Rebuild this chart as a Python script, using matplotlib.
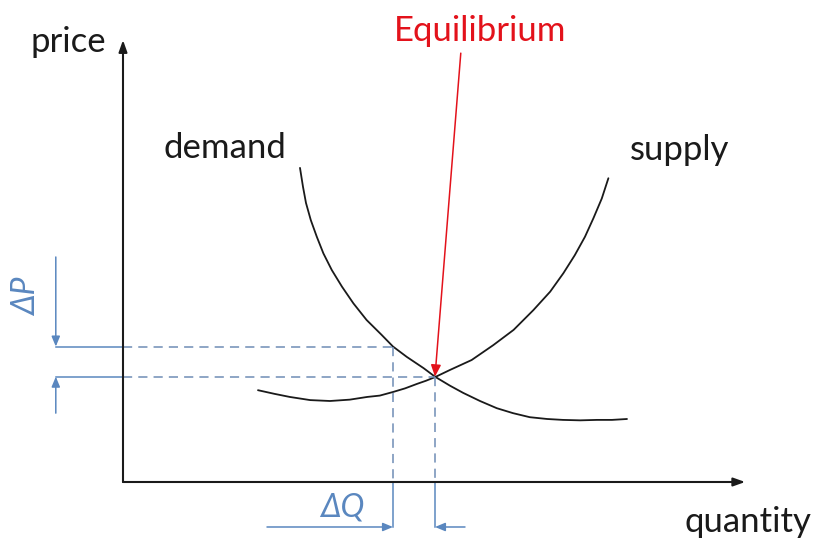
import matplotlib
matplotlib.use("Agg")
import matplotlib.pyplot as plt

plt.rcParams['font.family'] = ['Lato', 'DejaVu Sans']

# 需求曲线（读图得到的点，数量 q / 价格 p）
demand_q = [2.95, 3.00, 3.05, 3.13, 3.23, 3.34, 3.48, 3.65, 3.84, 4.06, 4.31, 4.50, 4.73,
            5.01, 5.20, 5.45, 5.67, 5.95, 6.23, 6.50, 6.78, 7.07, 7.33, 7.62, 7.90, 8.15, 8.40]
demand_p = [6.98, 6.56, 6.20, 5.82, 5.45, 5.08, 4.71, 4.34, 3.97, 3.60, 3.27, 3.01, 2.78,
            2.53, 2.34, 2.14, 1.98, 1.80, 1.64, 1.53, 1.44, 1.40, 1.38, 1.37, 1.38, 1.38, 1.40]

# 供给曲线
supply_q = [2.25, 2.52, 2.78, 3.12, 3.45, 3.78, 4.07, 4.28, 4.50, 4.70, 4.90, 5.05, 5.20,
            5.45, 5.81, 6.17, 6.51, 6.84, 7.12, 7.34, 7.53, 7.70, 7.84, 7.98, 8.09]
supply_p = [2.04, 1.96, 1.89, 1.82, 1.80, 1.83, 1.89, 1.92, 2.00, 2.08, 2.18, 2.25, 2.33,
            2.49, 2.71, 3.04, 3.38, 3.82, 4.23, 4.64, 5.04, 5.45, 5.86, 6.30, 6.75]

# 均衡点与偏移点
eq_q, eq_p = 5.20, 2.34
off_q, off_p = 4.50, 3.01

# 坐标轴长度
x_end, y_end = 10.37, 9.82

# ΔP / ΔQ 标注
dp_x = -1.12
dp_top, dp_bottom = 5.0, 1.53
dq_y = -1.0
dq_left, dq_right = 2.4, 5.7

# 均衡箭头起点
eq_label_q, eq_label_p = 5.63, 9.53

BLACK = '#1a1a1a'
BLUE = '#5a87bf'
DASH = '#6f8db5'
RED = '#e3121b'

fig = plt.figure(figsize=(8.17, 5.40), dpi=100)
ax = fig.add_axes([0, 0, 1, 1])
ax.set_xlim(-2.05, 11.567)
ax.set_ylim(-1.289, 10.711)
ax.axis('off')

# 坐标轴
arrow_kw = dict(arrowstyle='-|>,head_length=0.7,head_width=0.25', color=BLACK, lw=1.5,
                shrinkA=0, shrinkB=0)
ax.annotate('', xy=(0, y_end), xytext=(0, 0), arrowprops=arrow_kw)
ax.annotate('', xy=(x_end, 0), xytext=(0, 0), arrowprops=arrow_kw)

# 曲线
ax.plot(demand_q, demand_p, color=BLACK, lw=1.3, solid_capstyle='round', solid_joinstyle='round')
ax.plot(supply_q, supply_p, color=BLACK, lw=1.3, solid_capstyle='round', solid_joinstyle='round')

# 虚线（坐标轴内）
dash_kw = dict(color=DASH, lw=1.1, dashes=(6, 4))
ax.plot([0, off_q], [off_p, off_p], **dash_kw)
ax.plot([0, eq_q], [eq_p, eq_p], **dash_kw)
ax.plot([off_q, off_q], [off_p, 0], **dash_kw)
ax.plot([eq_q, eq_q], [eq_p, 0], **dash_kw)

# 实线（坐标轴外）
ax.plot([dp_x, 0], [off_p, off_p], color=BLUE, lw=1.1)
ax.plot([dp_x, 0], [eq_p, eq_p], color=BLUE, lw=1.1)
ax.plot([off_q, off_q], [0, dq_y], color=BLUE, lw=1.1)
ax.plot([eq_q, eq_q], [0, dq_y], color=BLUE, lw=1.1)

# ΔP、ΔQ 箭头
blue_kw = dict(arrowstyle='-|>,head_length=0.6,head_width=0.25', color=BLUE, lw=1.1,
               shrinkA=0, shrinkB=0)
ax.annotate('', xy=(dp_x, off_p), xytext=(dp_x, dp_top), arrowprops=blue_kw)
ax.annotate('', xy=(dp_x, eq_p), xytext=(dp_x, dp_bottom), arrowprops=blue_kw)
ax.annotate('', xy=(off_q, dq_y), xytext=(dq_left, dq_y), arrowprops=blue_kw)
ax.annotate('', xy=(eq_q, dq_y), xytext=(dq_right, dq_y), arrowprops=blue_kw)

# 均衡箭头
ax.annotate('', xy=(eq_q, eq_p), xytext=(eq_label_q, eq_label_p),
            arrowprops=dict(arrowstyle='-|>,head_length=0.7,head_width=0.3', color=RED,
                            lw=1.1, shrinkA=0, shrinkB=0))

# 文字
fs = 25
ax.text(-0.917, 9.78, 'price', fontsize=fs, color=BLACK, ha='center', va='center')
ax.text(5.95, 10.02, 'Equilibrium', fontsize=fs, color=RED, ha='center', va='center')
ax.text(1.70, 7.42, 'demand', fontsize=fs, color=BLACK, ha='center', va='center')
ax.text(9.27, 7.38, 'supply', fontsize=fs, color=BLACK, ha='center', va='center')
ax.text(10.42, -0.89, 'quantity', fontsize=fs, color=BLACK, ha='center', va='center')
ax.text(-1.6, 4.11, 'ΔP', fontsize=fs - 2, color=BLUE, ha='center', va='center',
        rotation=90, style='italic')
ax.text(3.65, -0.56, 'ΔQ', fontsize=fs - 2, color=BLUE, ha='center', va='center',
        style='italic')

fig.savefig('out.png', dpi=100)
